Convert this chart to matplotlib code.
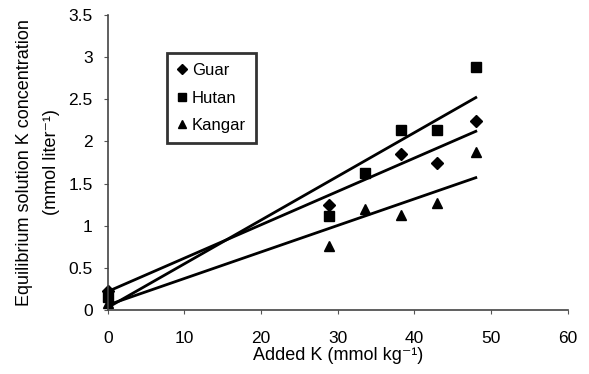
import matplotlib
matplotlib.use("Agg")
import matplotlib.pyplot as plt

plt.rcParams['font.family'] = ['Liberation Sans', 'DejaVu Sans']

added_k = [0, 28.8, 33.5, 38.3, 43, 48]
guar = [0.22, 1.25, None, 1.85, 1.75, 2.24]
hutan = [0.15, 1.11, 1.63, 2.13, 2.13, 2.88]
kangar = [0.08, 0.76, 1.20, 1.13, 1.27, 1.87]

fit_x = [0, 48]
guar_fit = [0.22, 2.12]
hutan_fit = [0.03, 2.52]
kangar_fit = [0.06, 1.57]

fig = plt.figure(figsize=(5.89, 3.74), dpi=100)
ax = fig.add_axes([0.183, 0.171, 0.781, 0.789])

def pts(xs, ys):
    p = [(x, y) for x, y in zip(xs, ys) if y is not None]
    return [a for a, _ in p], [b for _, b in p]

gx, gy = pts(added_k, guar)
hx, hy = pts(added_k, hutan)
kx, ky = pts(added_k, kangar)

ax.plot(fit_x, guar_fit, color='black', lw=2)
ax.plot(fit_x, hutan_fit, color='black', lw=2)
ax.plot(fit_x, kangar_fit, color='black', lw=2)
ax.plot(gx, gy, 'D', color='black', ms=6, ls='none', label='Guar', clip_on=False)
ax.plot(hx, hy, 's', color='black', ms=6.5, ls='none', label='Hutan', clip_on=False)
ax.plot(kx, ky, '^', color='black', ms=7.5, ls='none', label='Kangar', clip_on=False)

ax.set_xlim(0, 60)
ax.set_ylim(0, 3.5)
ax.set_xticks([0, 10, 20, 30, 40, 50, 60])
ax.set_yticks([0, 0.5, 1, 1.5, 2, 2.5, 3, 3.5])
ax.set_yticklabels(['0', '0.5', '1', '1.5', '2', '2.5', '3', '3.5'])
for s in ['top', 'right']:
    ax.spines[s].set_visible(False)
for s in ['left', 'bottom']:
    ax.spines[s].set_color('#444444')
    ax.spines[s].set_linewidth(1.2)
ax.tick_params(axis='both', labelsize=12.5, length=3, color='#555555')
ax.tick_params(axis='x', pad=12)
ax.tick_params(axis='y', pad=8)

ax.set_xlabel('Added K (mmol kg\u207b\u00b9)', fontsize=13, labelpad=1)
ax.set_ylabel('Equilibrium solution K concentration\n(mmol liter\u207b\u00b9)', fontsize=13,
              labelpad=6, linespacing=1.75)

leg = ax.legend(loc='upper left', bbox_to_anchor=(0.128, 0.871), borderaxespad=0,
                frameon=True, fancybox=False,
                edgecolor='black', fontsize=12, handlelength=0.6, handletextpad=0.3,
                borderpad=0.6, labelspacing=0.75, markerscale=0.85)
leg.get_frame().set_linewidth(2)

fig.savefig('out.png', dpi=100)
